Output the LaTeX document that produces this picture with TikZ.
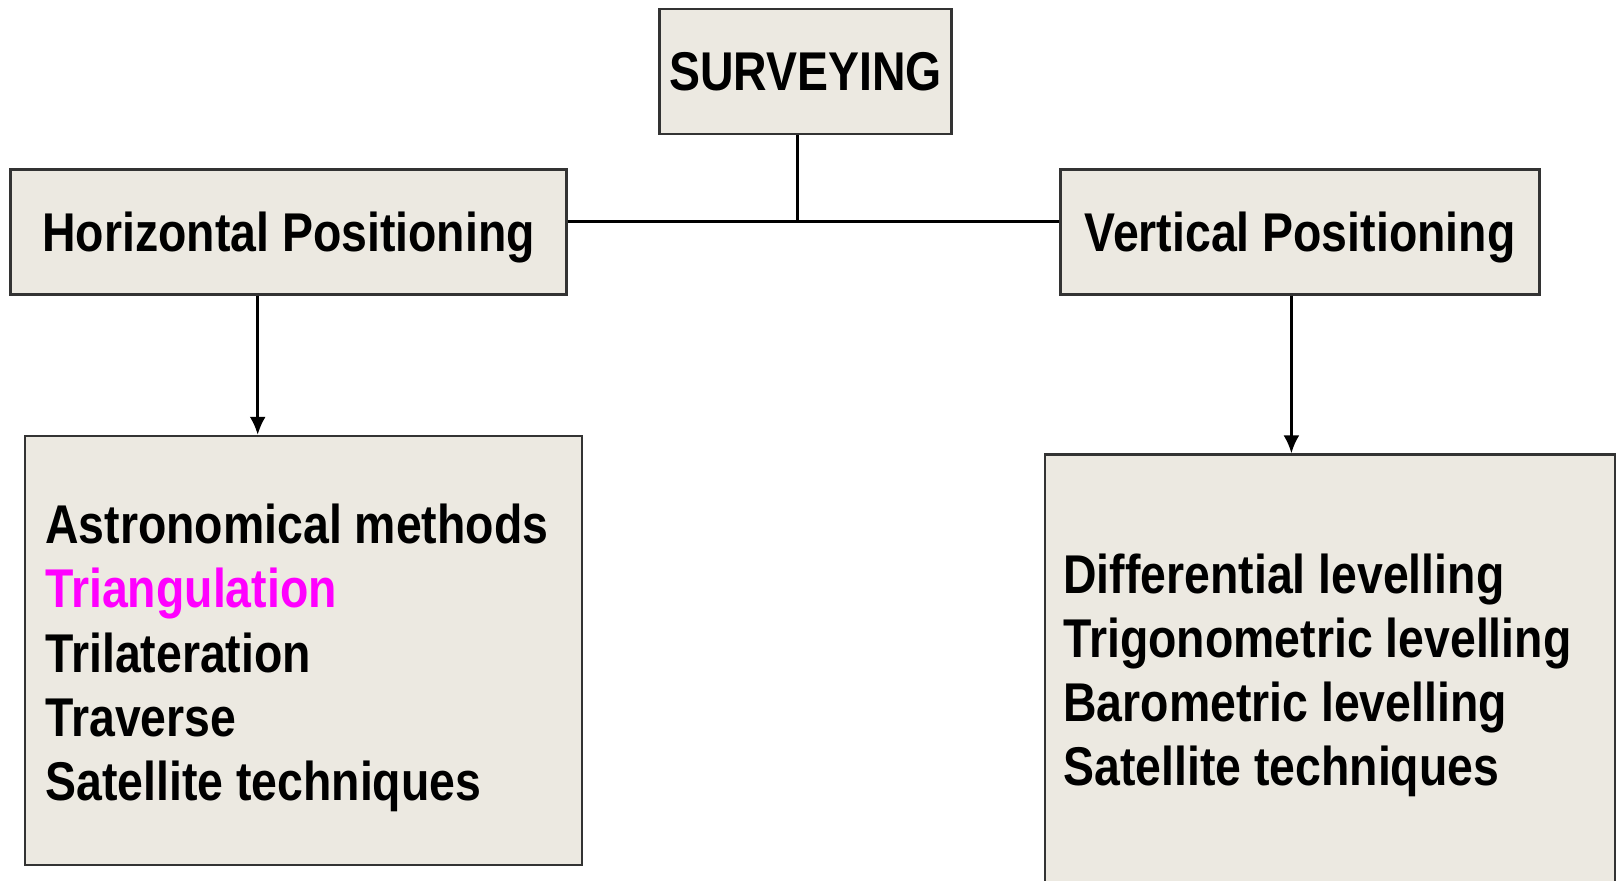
\documentclass[tikz,border=0pt]{standalone}
\usepackage{fontspec}
\newfontfamily\diagfont[FakeStretch=0.85]{Liberation Sans Bold}
\usetikzlibrary{positioning,arrows.meta}
\definecolor{boxfill}{RGB}{236,233,225}
\definecolor{boxline}{RGB}{51,51,51}
\definecolor{hilite}{RGB}{255,0,255}
\tikzstyle{titlebox} = [
    draw=boxline,
    fill=boxfill,
    line width=1.2pt,
    inner sep=0pt,
    minimum height=62.5pt,
    text height=19.6pt,
    text depth=0pt,
    font=\diagfont\fontsize{27.3}{32.2}\selectfont]
\tikzstyle{listbox} = [
    draw=boxline,
    fill=boxfill,
    line width=1.2pt,
    inner sep=0pt]
\tikzstyle{listline} = [
    anchor=base west,
    inner sep=0pt,
    font=\diagfont\fontsize{27.3}{32.2}\selectfont]
\tikzstyle{link} = [line width=1.25pt]

\begin{document}
\begin{tikzpicture}[x=0.5pt,y=-0.5pt]
        \useasboundingbox (0,0) rectangle (1616,880);
        \clip (0,0) rectangle (1616,880);

        \node[titlebox, minimum width=146pt] (surv) at (805.5,71.2) {SURVEYING};
        \node[titlebox, minimum width=278pt] (hpos) at (288.5,231.8) {Horizontal Positioning};
        \node[titlebox, minimum width=239.5pt] (vpos) at (1300,231.8) {Vertical Positioning};

        \node[listbox, minimum width=278.5pt, minimum height=214.5pt] (hlist) at (303.5,650.5) {};
        \node[listline] (astro) at (45,543.3) {Astronomical methods};
        \node[listline, text=hilite] (triang) at (45,607.7) {Triangulation};
        \node[listline] (trilat) at (45,672.1) {Trilateration};
        \node[listline] (trav) at (45,736.5) {Traverse};
        \node[listline] (hsat) at (45,800.9) {Satellite techniques};

        \node[listbox, minimum width=285pt, minimum height=272.5pt] (vlist) at (1330,727) {};
        \node[listline] (diff) at (1063,593.5) {Differential levelling};
        \node[listline] (trig) at (1063,657.5) {Trigonometric levelling};
        \node[listline] (baro) at (1063,721.5) {Barometric levelling};
        \node[listline] (vsat) at (1063,785.5) {Satellite techniques};

        \coordinate (junc) at (797.7,221.6);
        \coordinate (hdrop) at (257.7,0);
        \coordinate (vdrop) at (1291.4,0);

        \draw[link] (surv.south -| junc) -- (junc);
        \draw[link] (hpos.east |- junc) -- (vpos.west |- junc);
        \draw[link, -{Latex[length=9pt,width=8pt]}]
            (hpos.south -| hdrop) -- (hlist.north -| hdrop);
        \draw[link, -{Latex[length=9pt,width=8pt]}]
            (vpos.south -| vdrop) -- (vlist.north -| vdrop);
    \end{tikzpicture}
\end{document}
